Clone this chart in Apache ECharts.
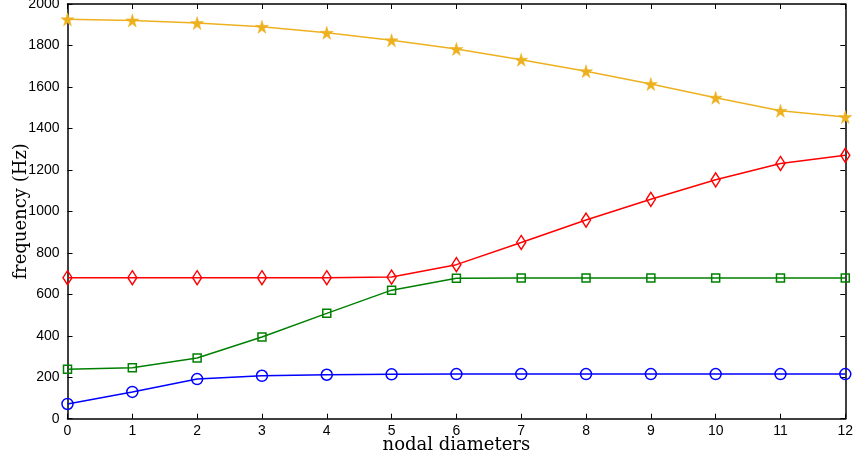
<!DOCTYPE html>
<html><head><meta charset="utf-8">
<script src="https://cdn.jsdelivr.net/npm/echarts@6/dist/echarts.min.js"></script>
<style>html,body{margin:0;padding:0;background:#fff}#c{width:854px;height:459px}</style>
</head><body><div id="c"></div>
<script>
const categories = [0,1,2,3,4,5,6,7,8,9,10,11,12];
const mode1 = [71,129,191,207,212,214,215,215,215,215,215,215,215];
const mode2 = [238,246,293,394,508,620,677,678,678,678,678,678,678];
const mode3 = [680,680,680,680,680,683,743,850,958,1058,1152,1231,1270];
const mode4 = [1926,1921,1908,1890,1861,1825,1783,1731,1676,1614,1548,1485,1455];
const yTicks = [0,200,400,600,800,1000,1200,1400,1600,1800,2000];

const pair = arr => arr.map((v,i)=>[categories[i], v]);
const star = 'path://M50,0 L61,35 L98,35 L68,57 L79,91 L50,70 L21,91 L32,57 L2,35 L39,35 Z';

function mk(name, data, color, symbol, size, filled){
  return {
    name, type:'line', data: pair(data), symbol, symbolSize:size, showSymbol:true,
    lineStyle:{color, width:1.5},
    itemStyle: filled ? {color, borderColor:color, borderWidth:0.5} : {color:'rgba(0,0,0,0)', borderColor:color, borderWidth:1.5},
    emphasis:{disabled:true}, animation:false, z:3
  };
}

const chart = echarts.init(document.getElementById('c'), null, {renderer:'canvas'});
const axisCommon = {
  axisLine:{show:true, onZero:false, lineStyle:{color:'#000', width:1.5}},
  axisTick:{show:true, inside:true, length:5, lineStyle:{color:'#000', width:1}},
  splitLine:{show:false}
};
chart.setOption({
  backgroundColor:'#fff',
  animation:false,
  grid:{left:67.5, right:8.7, top:4, bottom:40.3, containLabel:false, outerBoundsMode:'none'},
  xAxis:[
    Object.assign({type:'value', min:0, max:12, interval:1,
      axisLabel:{color:'#000', fontFamily:'Liberation Sans, Arial, sans-serif', fontSize:14, margin:5, formatter: v => String(v)},
      name:'nodal diameters', nameLocation:'middle', nameGap:18, nameMoveOverlap:false,
      nameTextStyle:{color:'#000', fontFamily:'DejaVu Serif, Liberation Serif, serif', fontSize:18}
    }, axisCommon),
    Object.assign({type:'value', min:0, max:12, interval:1, position:'top', axisLabel:{show:false}}, axisCommon)
  ],
  yAxis:[
    Object.assign({type:'value', min:0, max:2000, interval:200,
      axisLabel:{color:'#000', fontFamily:'Liberation Sans, Arial, sans-serif', fontSize:14, margin:8, formatter: v => String(v)},
      name:'frequency (Hz)', nameLocation:'middle', nameGap:37, nameRotate:90, nameMoveOverlap:false,
      nameTextStyle:{color:'#000', fontFamily:'DejaVu Serif, Liberation Serif, serif', fontSize:18}
    }, axisCommon),
    Object.assign({type:'value', min:0, max:2000, interval:200, position:'right', axisLabel:{show:false}}, axisCommon)
  ],
  series:[
    mk('mode 1', mode1, '#0000FF', 'circle', 11, false),
    mk('mode 2', mode2, '#008000', 'rect', 8, false),
    mk('mode 3', mode3, '#FF0000', 'diamond', [9,14], false),
    mk('mode 4', mode4, '#EDB120', star, 13, true)
  ]
});
</script></body></html>
